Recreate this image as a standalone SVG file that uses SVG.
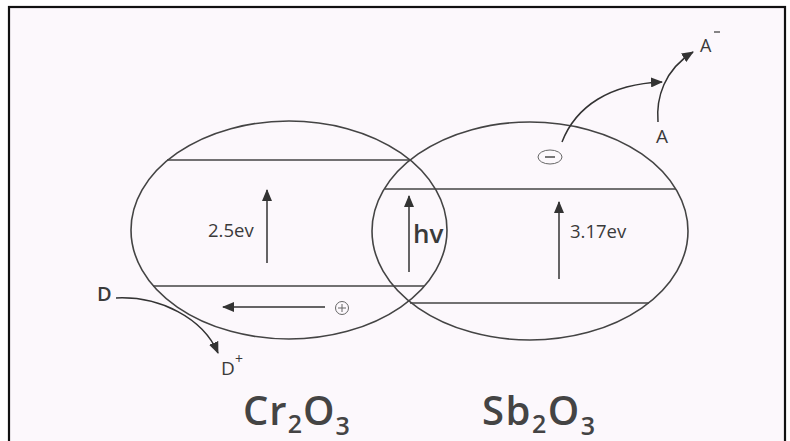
<svg xmlns="http://www.w3.org/2000/svg" width="790" height="441" viewBox="0 0 790 441">
<defs>
<marker id="ah" viewBox="0 0 12 10" refX="11" refY="5" markerWidth="12" markerHeight="10" markerUnits="userSpaceOnUse" orient="auto">
<path d="M0,0 L12,5 L0,10 Z" fill="#333"/>
</marker>
<style>
.shape{fill:none;stroke:#444;stroke-width:1.6}
.band{stroke:#444;stroke-width:1.6}
.arr{fill:none;stroke:#333;stroke-width:1.5;marker-end:url(#ah)}
.lbl{font-family:"Open Sans","Noto Sans",sans-serif;fill:#3a3a3a}
.formula{font-family:"Open Sans","Noto Sans",sans-serif;fill:#444;font-size:40px;font-weight:600}
.sub{font-size:25px}
.thin{fill:none;stroke:#666;stroke-width:1}
</style>
</defs>
<rect x="0" y="0" width="790" height="441" fill="#ffffff"/>
<rect x="9" y="7" width="776" height="440" fill="#fcf8fc" stroke="#111" stroke-width="2.2"/>

<g id="cr2o3">
<ellipse class="shape" cx="289" cy="230" rx="158" ry="109"/>
<line class="band" x1="167" y1="160" x2="410" y2="160"/>
<line class="band" x1="153" y1="286" x2="424" y2="286"/>
<text class="lbl" x="208" y="237" font-size="18.5">2.5ev</text>
<text class="formula" x="243" y="425" letter-spacing="1">Cr<tspan class="sub" dy="8">2</tspan><tspan dy="-8">O</tspan><tspan class="sub" dy="10">3</tspan></text>
</g>

<g id="sb2o3">
<ellipse class="shape" cx="530" cy="231" rx="158" ry="109"/>
<line class="band" x1="385" y1="189" x2="676" y2="189"/>
<line class="band" x1="410" y1="303" x2="649" y2="303"/>
<text class="lbl" x="570" y="238" font-size="18.5">3.17ev</text>
<text class="formula" x="482" y="425" letter-spacing="1.5">Sb<tspan class="sub" dy="8">2</tspan><tspan dy="-8">O</tspan><tspan class="sub" dy="10">3</tspan></text>
</g>

<g id="hv">
<text class="lbl" x="413" y="243" font-size="26" font-weight="600">hv</text>
</g>

<g id="hole">
<circle class="thin" cx="342" cy="308" r="6.5"/>
<line class="thin" x1="338" y1="308" x2="346" y2="308"/>
<line class="thin" x1="342" y1="304" x2="342" y2="312"/>
</g>

<g id="electron">
<ellipse class="thin" cx="550" cy="157" rx="12" ry="7"/>
<line x1="545" y1="157" x2="555" y2="157" stroke="#555" stroke-width="1.6"/>
</g>

<g id="donor">
<text class="lbl" x="97" y="301" font-size="20" font-weight="600">D</text>
<text class="lbl" x="221" y="375" font-size="19">D<tspan x="235" y="364" font-size="14">+</tspan></text>
</g>

<g id="acceptor">
<text class="lbl" x="656" y="143" font-size="19">A</text>
<text class="lbl" x="700" y="52" font-size="18">A</text>
<line x1="714" y1="32" x2="720" y2="32" stroke="#444" stroke-width="1.3"/>
</g>

<g id="connectors">
<line class="arr" x1="267" y1="263" x2="267" y2="190"/>
<line class="arr" x1="409" y1="272" x2="409" y2="196"/>
<line class="arr" x1="559" y1="279" x2="559" y2="202"/>
<line class="arr" x1="325" y1="307" x2="223" y2="307"/>
<path class="arr" d="M116,298 C160,296 203,318 218,353"/>
<path class="arr" d="M562,142 C576,106 610,84 662,82"/>
<path class="arr" d="M658,122 C656,98 664,70 693,52"/>
</g>
</svg>
